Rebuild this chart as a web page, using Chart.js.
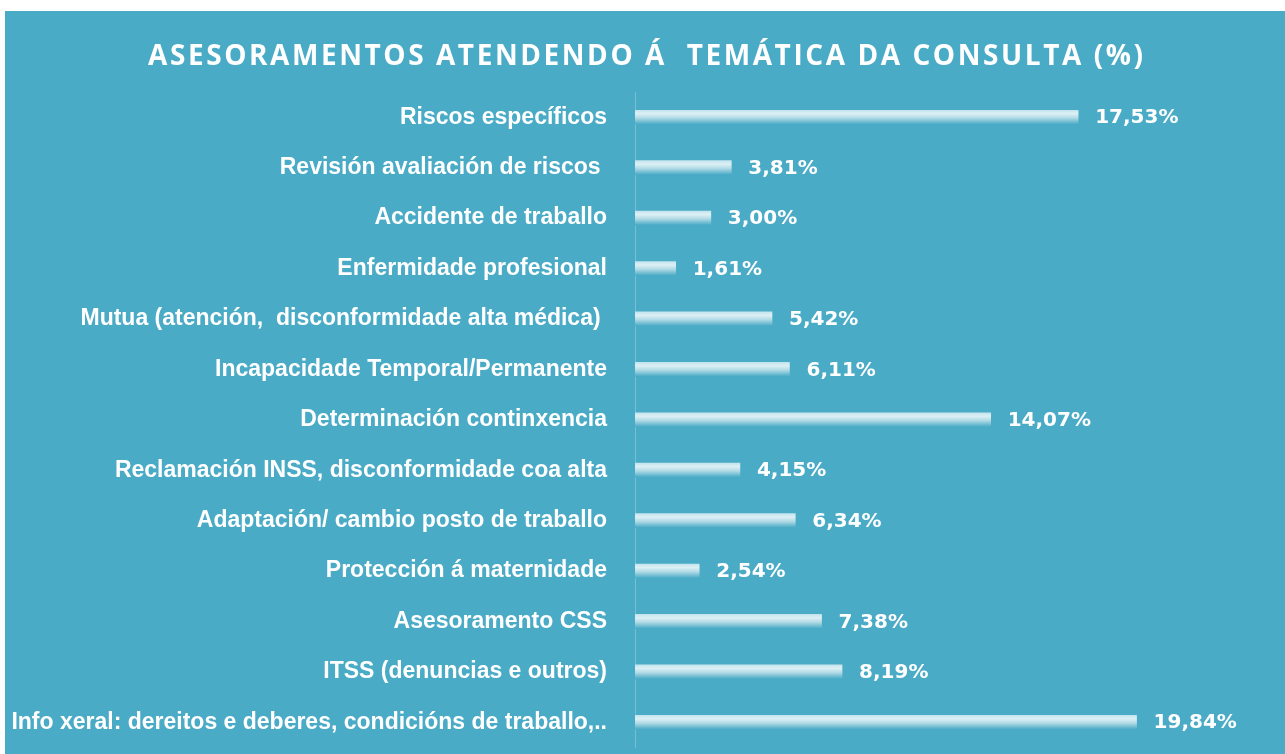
<!DOCTYPE html>
<html>
<head>
<meta charset="utf-8">
<script src="https://cdn.jsdelivr.net/npm/chart.js@4"></script>
<style>
  body { margin: 0; background: #ffffff; }
  #wrap { position: absolute; left: 5px; top: 11px; width: 1280px; height: 743px; background: #4aabc6; overflow: hidden; }
</style>
</head>
<body>
<div id="wrap"><canvas id="myChart" width="1280" height="748"></canvas></div>
<script>
// data
var titleText = "ASESORAMENTOS ATENDENDO Á  TEMÁTICA DA CONSULTA (%)";
var categories = [
    "Riscos específicos",
    "Revisión avaliación de riscos ",
    "Accidente de traballo",
    "Enfermidade profesional",
    "Mutua (atención,  disconformidade alta médica) ",
    "Incapacidade Temporal/Permanente",
    "Determinación continxencia",
    "Reclamación INSS, disconformidade coa alta",
    "Adaptación/ cambio posto de traballo",
    "Protección á maternidade",
    "Asesoramento CSS",
    "ITSS (denuncias e outros)",
    "Info xeral: dereitos e deberes, condicións de traballo,.."
];
var percentages = [17.53, 3.81, 3.00, 1.61, 5.42, 6.11, 14.07, 4.15, 6.34, 2.54, 7.38, 8.19, 19.84];

var teal = "#4aabc6";

// title with letter spacing, drawn on the canvas
const titlePlugin = {
    id: 'spacedTitle',
    afterDraw(chart) {
        const ctx = chart.ctx;
        ctx.save();
        ctx.font = "bold 28px 'Open Sans'";
        ctx.fillStyle = "#ffffff";
        ctx.textBaseline = "alphabetic";
        ctx.textAlign = "left";
        ctx.letterSpacing = "0px";
        var w = ctx.measureText(titleText).width;
        var gap = (995 - w) / (titleText.length - 1);
        ctx.letterSpacing = gap + "px";
        ctx.fillText(titleText, 143, 54);
        ctx.restore();
    }
};

// value labels at the end of each bar
const valuePlugin = {
    id: 'values',
    afterDatasetsDraw(chart) {
        const ctx = chart.ctx;
        const meta = chart.getDatasetMeta(0);
        ctx.save();
        ctx.font = "bold 20px 'DejaVu Sans'";
        ctx.fillStyle = "#ffffff";
        ctx.textAlign = "left";
        ctx.textBaseline = "middle";
        meta.data.forEach(function(bar, i) {
            var txt = percentages[i].toFixed(2).replace('.', ',') + '%';
            ctx.fillText(txt, bar.x + 17, bar.y + 1);
        });
        ctx.restore();
    }
};

function barFill(context) {
    const chart = context.chart;
    if (!chart.chartArea || context.dataIndex === undefined) return "#cde9f1";
    const y = chart.scales.y.getPixelForValue(context.dataIndex);
    const g = chart.ctx.createLinearGradient(0, y - 7, 0, y + 7);
    g.addColorStop(0, "#c4e4ed");
    g.addColorStop(0.25, "#dcf0f5");
    g.addColorStop(0.55, "#b2dbe6");
    g.addColorStop(1, teal);
    return g;
}

const myChart = new Chart("myChart", {
    type: "bar",
    data: {
        labels: categories,
        datasets: [{
            data: percentages,
            backgroundColor: barFill,
            borderWidth: 0,
            barThickness: 14
        }]
    },
    options: {
        indexAxis: 'y',
        responsive: false,
        animation: false,
        layout: { padding: { top: 81, bottom: 11, right: 18, left: 0 } },
        plugins: {
            legend: { display: false },
            title: { display: false },
            tooltip: { enabled: false }
        },
        scales: {
            x: {
                display: false,
                min: 0,
                max: 25
            },
            y: {
                grid: { display: false, drawTicks: true, tickLength: 28, tickColor: "rgba(0,0,0,0)" },
                border: { display: true, color: "rgba(255,255,255,0.25)", width: 1 },
                ticks: {
                    color: "#ffffff",
                    padding: 0,
                    font: { family: "'Liberation Sans', Arial", size: 23, weight: 'bold', lineHeight: 1.0 }
                },
                afterFit(scale) { scale.width = 630; }
            }
        }
    },
    plugins: [titlePlugin, valuePlugin]
});
</script>
</body>
</html>
